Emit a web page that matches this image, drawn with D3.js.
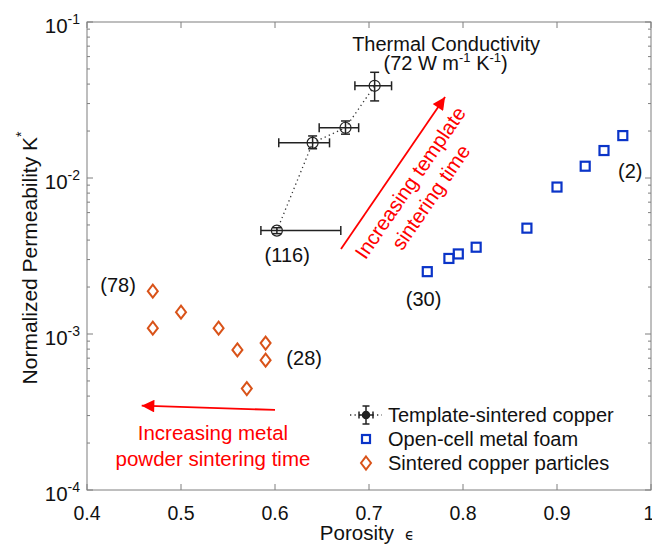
<!DOCTYPE html>
<html>
<head>
  <script src="https://d3js.org/d3.v7.min.js"></script>
  <style>
    body { margin: 0; background: #fff; }
    svg { font-family: "Liberation Sans", Arial, sans-serif; }
  </style>
</head>
<body>
  <div id="chart"></div>
  <script>
    // Template-sintered copper (with error bars)
    const tplPorosity = [0.602, 0.640, 0.675, 0.706];
    const tplK = [0.0046, 0.0168, 0.0210, 0.0390];
    const tplXLow = [0.585, 0.604, 0.647, 0.685];
    const tplXHigh = [0.670, 0.658, 0.689, 0.724];
    const tplKLow = [0.0044, 0.0154, 0.0191, 0.0312];
    const tplKHigh = [0.0048, 0.0186, 0.0232, 0.0476];

    // Open-cell metal foam
    const foamPorosity = [0.762, 0.785, 0.795, 0.814, 0.868, 0.900, 0.930, 0.950, 0.970];
    const foamK = [0.00251, 0.00305, 0.00326, 0.0036, 0.00477, 0.00875, 0.0119, 0.0150, 0.0187];

    // Sintered copper particles
    const partPorosity = [0.47, 0.47, 0.50, 0.54, 0.56, 0.59, 0.59, 0.57];
    const partK = [0.00188, 0.00109, 0.00138, 0.00109, 0.00079, 0.000875, 0.00068, 0.000447];

    const xTicks = [0.4, 0.5, 0.6, 0.7, 0.8, 0.9, 1];
    const yTicks = [1e-4, 1e-3, 1e-2, 1e-1];
    const yTickExp = ["-4", "-3", "-2", "-1"];

    const legendLabels = ["Template-sintered copper", "Open-cell metal foam", "Sintered copper particles"];

    const W = 652, H = 545;
    const margin = { top: 22, right: 1, bottom: 55, left: 87 };

    const svg = d3.select("#chart").append("svg")
      .attr("width", W).attr("height", H);

    const x = d3.scaleLinear().domain([0.4, 1]).range([margin.left, W - margin.right]);
    const y = d3.scaleLog().domain([1e-4, 1e-1]).range([H - margin.bottom, margin.top]);

    const axisColor = "#7f7f7f";
    const blue = "#0a34c8";
    const orange = "#d95319";

    // frame
    svg.append("rect")
      .attr("x", x(0.4)).attr("y", y(1e-1))
      .attr("width", x(1) - x(0.4)).attr("height", y(1e-4) - y(1e-1))
      .attr("fill", "none").attr("stroke", axisColor).attr("stroke-width", 1);

    // log minor/major ticks on left and right (inward)
    const minor = [];
    for (let e = -4; e < -1; e++) {
      for (let m = 2; m <= 9; m++) minor.push(m * Math.pow(10, e));
    }
    const tickG = svg.append("g").attr("stroke", axisColor).attr("stroke-width", 1);
    minor.forEach(v => {
      tickG.append("line").attr("x1", x(0.4)).attr("x2", x(0.4) + 3).attr("y1", y(v)).attr("y2", y(v));
      tickG.append("line").attr("x1", x(1)).attr("x2", x(1) - 3).attr("y1", y(v)).attr("y2", y(v));
    });
    yTicks.forEach(v => {
      tickG.append("line").attr("x1", x(0.4)).attr("x2", x(0.4) + 6).attr("y1", y(v)).attr("y2", y(v));
      tickG.append("line").attr("x1", x(1)).attr("x2", x(1) - 6).attr("y1", y(v)).attr("y2", y(v));
    });
    xTicks.forEach(v => {
      tickG.append("line").attr("x1", x(v)).attr("x2", x(v)).attr("y1", y(1e-4)).attr("y2", y(1e-4) - 6);
      tickG.append("line").attr("x1", x(v)).attr("x2", x(v)).attr("y1", y(1e-1)).attr("y2", y(1e-1) + 6);
    });

    // tick labels
    svg.append("g").selectAll("text").data(xTicks).join("text")
      .attr("x", d => x(d) - (d === 1 ? 2 : 0)).attr("y", y(1e-4) + 30)
      .attr("text-anchor", "middle").attr("font-size", 19.5).attr("fill", "#111")
      .text(d => d);

    const yl = svg.append("g").selectAll("text").data(yTicks).join("text")
      .attr("x", x(0.4) - 7).attr("y", d => y(d) + 11)
      .attr("text-anchor", "end").attr("font-size", 20.5).attr("fill", "#111");
    yl.append("tspan").text("10");
    yl.append("tspan").attr("font-size", 14).attr("dy", -9).text((d, i) => yTickExp[i]);

    // axis labels
    const ylab = svg.append("text")
      .attr("transform", `translate(37,258) rotate(-90)`)
      .attr("text-anchor", "middle").attr("font-size", 21).attr("fill", "#111");
    ylab.append("tspan").text("Normalized Permeability K");
    ylab.append("tspan").attr("font-size", 14).attr("dy", -11).text("*");

    const xlab = svg.append("text")
      .attr("x", (x(0.4) + x(1)) / 2 - 2).attr("y", H - 5)
      .attr("text-anchor", "middle").attr("font-size", 20.5).attr("fill", "#111");
    xlab.append("tspan").text("Porosity");
    xlab.append("tspan").attr("font-size", 15).attr("font-family", "DejaVu Sans").attr("dx", 11).text("\u03F5");

    // template-sintered copper: dotted line, error bars, circles
    const tplData = tplPorosity.map((p, i) => ({
      x: p, k: tplK[i], xl: tplXLow[i], xh: tplXHigh[i], kl: tplKLow[i], kh: tplKHigh[i]
    }));
    svg.append("path")
      .datum(tplData)
      .attr("fill", "none").attr("stroke", "#333").attr("stroke-width", 1.3)
      .attr("stroke-dasharray", "1.3,3.2")
      .attr("d", d3.line().x(d => x(d.x)).y(d => y(d.k)));

    const cap = 4.5;
    const eb = svg.append("g").attr("stroke", "#222").attr("stroke-width", 1.5).attr("fill", "none");
    tplData.forEach(d => {
      const cx = x(d.x), cy = y(d.k);
      eb.append("line").attr("x1", x(d.xl)).attr("x2", x(d.xh)).attr("y1", cy).attr("y2", cy);
      eb.append("line").attr("x1", x(d.xl)).attr("x2", x(d.xl)).attr("y1", cy - cap).attr("y2", cy + cap);
      eb.append("line").attr("x1", x(d.xh)).attr("x2", x(d.xh)).attr("y1", cy - cap).attr("y2", cy + cap);
      eb.append("line").attr("x1", cx).attr("x2", cx).attr("y1", y(d.kl)).attr("y2", y(d.kh));
      eb.append("line").attr("x1", cx - cap).attr("x2", cx + cap).attr("y1", y(d.kl)).attr("y2", y(d.kl));
      eb.append("line").attr("x1", cx - cap).attr("x2", cx + cap).attr("y1", y(d.kh)).attr("y2", y(d.kh));
      eb.append("circle").attr("cx", cx).attr("cy", cy).attr("r", 5.5).attr("stroke-width", 1.2);
    });

    // open-cell metal foam: squares
    svg.append("g").selectAll("rect").data(foamPorosity).join("rect")
      .attr("x", (d) => x(d) - 4.5).attr("y", (d, i) => y(foamK[i]) - 4.5)
      .attr("width", 9).attr("height", 9)
      .attr("fill", "none").attr("stroke", blue).attr("stroke-width", 2.2);

    // sintered copper particles: diamonds
    const diamond = "M0,-6.5L5,0L0,6.5L-5,0Z";
    svg.append("g").selectAll("path").data(partPorosity).join("path")
      .attr("transform", (d, i) => `translate(${x(d)},${y(partK[i])})`)
      .attr("d", diamond)
      .attr("fill", "none").attr("stroke", orange).attr("stroke-width", 2);

    // annotation labels
    const notes = [
      { t: "(116)", x: 0.613, k: 0.00321 },
      { t: "(30)", x: 0.758, k: 0.00169 },
      { t: "(2)", x: 0.978, k: 0.0112 },
      { t: "(78)", x: 0.433, k: 0.00206 },
      { t: "(28)", x: 0.631, k: 0.00070 }
    ];
    svg.append("g").selectAll("text").data(notes).join("text")
      .attr("x", d => x(d.x)).attr("y", d => y(d.k))
      .attr("dy", "0.36em")
      .attr("text-anchor", "middle").attr("font-size", 20).attr("fill", "#111")
      .text(d => d.t);

    svg.append("text")
      .attr("x", x(0.782)).attr("y", y(0.0655))
      .attr("text-anchor", "middle").attr("font-size", 20).attr("fill", "#111")
      .text("Thermal Conductivity");
    const tc = svg.append("text")
      .attr("x", x(0.7815)).attr("y", y(0.0490))
      .attr("text-anchor", "middle").attr("font-size", 20).attr("fill", "#111");
    tc.append("tspan").text("(72 W m");
    tc.append("tspan").attr("font-size", 13).attr("dy", -8).text("-1");
    tc.append("tspan").attr("dy", 8).text(" K");
    tc.append("tspan").attr("font-size", 13).attr("dy", -8).text("-1");
    tc.append("tspan").attr("dy", 8).text(")");

    // red arrows
    const red = "#ff0000";
    svg.append("defs").append("marker")
      .attr("id", "head").attr("viewBox", "0 0 10 10")
      .attr("refX", 10).attr("refY", 5)
      .attr("markerWidth", 8.5).attr("markerHeight", 7)
      .attr("markerUnits", "strokeWidth").attr("orient", "auto")
      .append("path").attr("d", "M0,0L10,5L0,10Z").attr("fill", red);

    function arrow(x0, k0, x1, k1) {
      svg.append("line")
        .attr("x1", x(x0)).attr("y1", y(k0)).attr("x2", x(x1)).attr("y2", y(k1))
        .attr("stroke", red).attr("stroke-width", 1.8)
        .attr("marker-end", "url(#head)");
    }
    arrow(0.6702, 0.00351, 0.7809, 0.0330);
    arrow(0.6, 0.000326, 0.4582, 0.000347);

    // rotated red text
    const ang = Math.atan2(y(0.0330) - y(0.00351), x(0.7809) - x(0.6702)) * 180 / Math.PI;
    const rt = [
      { t: "Increasing template", x: 0.7436, k: 0.00935 },
      { t: "sintering time", x: 0.7655, k: 0.00755 }
    ];
    svg.append("g").selectAll("text").data(rt).join("text")
      .attr("transform", d => `translate(${x(d.x)},${y(d.k)}) rotate(${ang})`)
      .attr("text-anchor", "middle").attr("dy", "0.36em")
      .attr("font-size", 20.5).attr("fill", red)
      .text(d => d.t);

    const bt = [
      { t: "Increasing metal", x: 0.5340, k: 0.000232 },
      { t: "powder sintering time", x: 0.5340, k: 0.000160 }
    ];
    svg.append("g").selectAll("text").data(bt).join("text")
      .attr("x", d => x(d.x)).attr("y", d => y(d.k))
      .attr("text-anchor", "middle").attr("dy", "0.36em")
      .attr("font-size", 20.5).attr("fill", red)
      .text(d => d.t);

    // legend
    const lg = svg.append("g").attr("transform", "translate(366,415)");
    const rowH = 24;
    legendLabels.forEach((lab, i) => {
      lg.append("text").attr("x", 22).attr("y", i * rowH).attr("dy", "0.36em")
        .attr("font-size", 20).attr("fill", "#111").text(lab);
    });
    // row 0 symbol
    lg.append("line").attr("x1", -16).attr("x2", 16).attr("y1", 0).attr("y2", 0)
      .attr("stroke", "#333").attr("stroke-width", 1.3).attr("stroke-dasharray", "1.3,3.2");
    const ls = lg.append("g").attr("stroke", "#222").attr("stroke-width", 1.5).attr("fill", "none");
    ls.append("line").attr("x1", -7).attr("x2", 7).attr("y1", 0).attr("y2", 0);
    ls.append("line").attr("x1", -7).attr("x2", -7).attr("y1", -3.5).attr("y2", 3.5);
    ls.append("line").attr("x1", 7).attr("x2", 7).attr("y1", -3.5).attr("y2", 3.5);
    ls.append("line").attr("x1", 0).attr("x2", 0).attr("y1", -9).attr("y2", 9);
    ls.append("line").attr("x1", -3.5).attr("x2", 3.5).attr("y1", -9).attr("y2", -9);
    ls.append("line").attr("x1", -3.5).attr("x2", 3.5).attr("y1", 9).attr("y2", 9);
    ls.append("circle").attr("r", 3.5).attr("fill", "#222");
    // row 1
    lg.append("rect").attr("x", -4).attr("y", rowH - 4).attr("width", 8).attr("height", 8)
      .attr("fill", "none").attr("stroke", blue).attr("stroke-width", 2.2);
    // row 2
    lg.append("path").attr("transform", `translate(0,${2 * rowH})`).attr("d", diamond)
      .attr("fill", "none").attr("stroke", orange).attr("stroke-width", 2);
  </script>
</body>
</html>
